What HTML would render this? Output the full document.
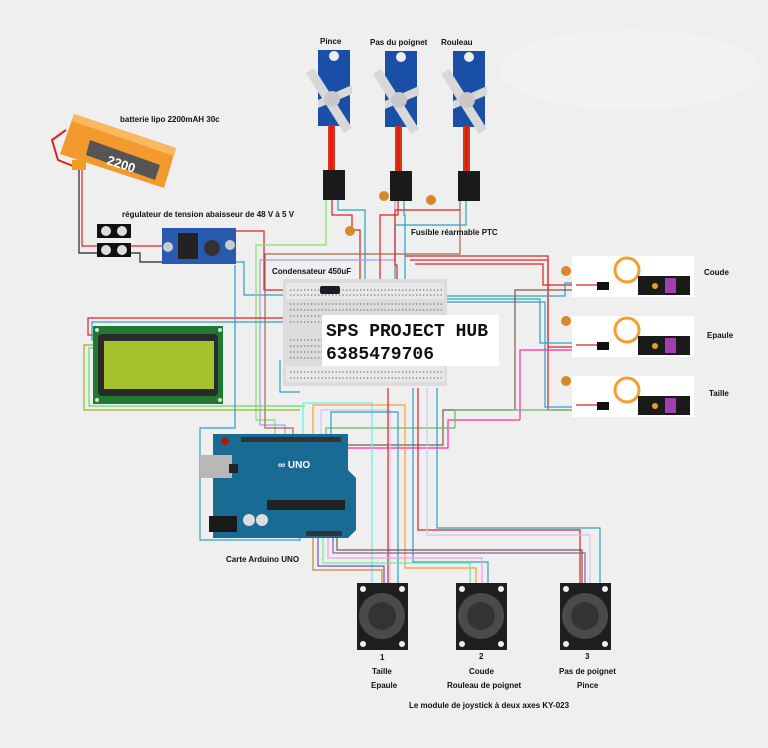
<!DOCTYPE html>
<html><head><meta charset="utf-8"><style>
html,body{margin:0;padding:0;background:#efefef;}
svg{display:block}
text{font-family:"Liberation Sans",sans-serif;font-weight:bold;font-size:8px;fill:#111}
</style></head><body>
<svg width="768" height="748" viewBox="0 0 768 748" xmlns="http://www.w3.org/2000/svg">
<rect width="768" height="748" fill="#efefef"/>
<ellipse cx="630" cy="70" rx="130" ry="40" fill="#f2f2f2"/>

<!-- wires -->
<g fill="none" stroke-width="1.2">
<polyline points="82,163 82,246 97,246" stroke="#e02020"/>
<polyline points="79,168 79,253 97,253" stroke="#222"/>
<polyline points="130,246 162,246" stroke="#e02020"/>
<polyline points="130,253 140,253 140,262 162,262" stroke="#222"/>
<polyline points="236,231 264,231 264,290 288,290" stroke="#e02020"/>
<polyline points="236,262 244,262 244,295 288,295" stroke="#2aa0c8"/>
<polyline points="326,200 326,245 256,245 256,420 275,420 275,437" stroke="#7de85a"/>
<polyline points="332,200 332,215 352,215 352,230 360,230 360,290" stroke="#e02020"/>
<polyline points="338,200 338,210 365,210 365,292" stroke="#2aa0c8"/>
<polyline points="395,200 395,260 260,260 260,425 285,425 285,437" stroke="#a99af0"/>
<polyline points="398,200 398,215 380,215 380,292" stroke="#e02020"/>
<polyline points="404,200 404,215 405,215 405,292" stroke="#2aa0c8"/>
<polyline points="460,200 460,254 265,254 265,428 293,428 293,437" stroke="#a0684a"/>
<polyline points="466,200 466,225 395,225 395,292" stroke="#2aa0c8"/>
<polyline points="460,210 395,210 395,265 397,265 397,292" stroke="#e02020"/>
<polyline points="405,256 548,256 548,347 572,347" stroke="#e02020"/>
<polyline points="410,260 548,260 548,410 572,410" stroke="#e02020"/>
<polyline points="415,264 543,264 543,285 572,285" stroke="#e02020"/>
<polyline points="400,292 400,302 545,302 545,407 572,407" stroke="#2aa0c8"/>
<polyline points="410,292 410,296 565,296 565,283 572,283" stroke="#2aa0c8"/>
<polyline points="420,292 420,299 540,299 540,343 572,343" stroke="#2aa0c8"/>
<polyline points="515,410 515,290 572,290" stroke="#7a5a4a"/>
<polyline points="515,410 443,410 443,445 310,445 310,437" stroke="#7a5a4a"/>
<polyline points="520,420 520,350 572,350" stroke="#ff2a9a"/>
<polyline points="520,420 448,420 448,448 316,448 316,437" stroke="#ff2a9a"/>
<polyline points="455,428 455,410 572,410" stroke="#6ab86a"/>
<polyline points="455,428 326,428 326,437" stroke="#6ab86a"/>
<polyline points="286,365 286,382 300,382" stroke="#e02020"/>
<polyline points="280,360 280,392 300,392" stroke="#2aa0c8"/>
<polyline points="300,300 300,318 88,318 88,335 94,335" stroke="#e02020"/>
<polyline points="305,300 305,322 92,322 92,340 94,340" stroke="#2aa0c8"/>
<polyline points="94,345 84,345 84,410 300,410" stroke="#9ab02a"/>
<polyline points="94,348 89,348 89,406 305,406" stroke="#5ae05a"/>
<polyline points="235,265 235,428 200,428 200,540 300,540 300,537" stroke="#2aa0c8"/>
<polyline points="303,437 303,403 372,403 372,588" stroke="#60f0f0"/>
<polyline points="313,437 313,405 405,405 405,568 476,568 476,588" stroke="#ff9a30"/>
<polyline points="321,437 321,410 390,410 390,588" stroke="#c8c8f8"/>
<polyline points="331,437 331,412 398,412 398,588" stroke="#2aa0c8"/>
<polyline points="388,388 388,588" stroke="#e02020"/>
<polyline points="418,388 418,530 580,530 580,588" stroke="#e02020"/>
<polyline points="427,388 427,535 590,535 590,588" stroke="#c8c8f8"/>
<polyline points="437,388 437,528 600,528 600,588" stroke="#2aa0c8"/>
<polyline points="413,388 413,562 488,562 488,588" stroke="#2aa0c8"/>
<polyline points="313,537 313,570 382,570 382,588" stroke="#c08a30"/>
<polyline points="318,537 318,566 384,566 384,588" stroke="#7a4ac8"/>
<polyline points="323,537 323,563 470,563 470,588" stroke="#60f0a0"/>
<polyline points="328,537 328,558 482,558 482,588" stroke="#ff9ad8"/>
<polyline points="333,537 333,553 585,553 585,588" stroke="#8a5ab8"/>
<polyline points="337,537 337,550 582,550 582,588" stroke="#7a5a3a"/>
</g>

<!-- servos top -->
<g>
<text x="320" y="44">Pince</text>
<text x="370" y="45">Pas du poignet</text>
<text x="441" y="45">Rouleau</text>
<g id="sv">
<rect x="318" y="50" width="32" height="76" fill="#1a4fa8"/>
<circle cx="334" cy="56" r="5" fill="#efefef"/>
<path d="M314 68 L352 128 L344 133 L306 73 Z" fill="#d8d8d8"/>
<path d="M318 100 L352 85 L352 94 L318 108 Z" fill="#d8d8d8"/>
<circle cx="332" cy="99" r="8" fill="#c8c8c8"/>
<rect x="328" y="125" width="7" height="45" fill="#d23a10"/>
<rect x="330" y="125" width="3" height="45" fill="#e81818"/>
<rect x="323" y="170" width="22" height="30" fill="#1a1a1a"/>
</g>
<use href="#sv" x="67" y="1"/>
<use href="#sv" x="135" y="1"/>
</g>

<!-- fuse/caps -->
<g fill="#d8882a">
<circle cx="350" cy="231" r="5"/><circle cx="384" cy="196" r="5"/><circle cx="431" cy="200" r="5"/>
<circle cx="566" cy="271" r="5"/><circle cx="566" cy="321" r="5"/><circle cx="566" cy="381" r="5"/>
</g>
<text x="411" y="235">Fusible réarmable PTC</text>

<!-- battery -->
<polygon points="74,114 176,148 164,188 60,154" fill="#f39a2e"/>
<polygon points="74,114 176,148 174,156 72,121" fill="#f8b860"/>
<polygon points="90,140 160,165 155,180 86,155" fill="#555"/>
<text x="108" y="168" transform="rotate(18 120 160)" style="font-size:13px;fill:#fff">2200</text>
<polyline points="66,130 52,140 58,160 78,168" fill="none" stroke="#e02020" stroke-width="2"/>
<rect x="72" y="160" width="14" height="10" fill="#f0a020"/>
<text x="120" y="122">batterie lipo 2200mAH 30c</text>

<!-- terminal blocks & regulator -->
<rect x="97" y="224" width="34" height="14" fill="#111"/>
<rect x="97" y="243" width="34" height="14" fill="#111"/>
<g fill="#ddd"><circle cx="106" cy="231" r="5"/><circle cx="122" cy="231" r="5"/><circle cx="106" cy="250" r="5"/><circle cx="122" cy="250" r="5"/></g>
<text x="122" y="217">régulateur de tension abaisseur de 48 V à 5 V</text>
<rect x="162" y="228" width="74" height="36" fill="#2a5ab0"/>
<rect x="178" y="233" width="20" height="26" fill="#222"/>
<circle cx="212" cy="248" r="8" fill="#333"/>
<circle cx="168" cy="247" r="5" fill="#ccc"/><circle cx="230" cy="245" r="5" fill="#ccc"/>

<!-- breadboard -->
<text x="272" y="274">Condensateur 450uF</text>
<rect x="283" y="279" width="164" height="107" fill="#dcdcdc"/>
<rect x="286" y="283" width="158" height="16" fill="#e8e8e8"/>
<rect x="286" y="366" width="158" height="16" fill="#e8e8e8"/>
<g stroke="#777" stroke-width="1.3" stroke-dasharray="1.3 2.2">
<line x1="290" y1="290" x2="442" y2="290"/><line x1="290" y1="295" x2="442" y2="295"/>
<line x1="290" y1="304" x2="442" y2="304"/><line x1="290" y1="310" x2="442" y2="310"/>
<line x1="290" y1="316" x2="322" y2="316"/><line x1="290" y1="322" x2="322" y2="322"/>
<line x1="290" y1="340" x2="322" y2="340"/><line x1="290" y1="346" x2="322" y2="346"/>
<line x1="290" y1="352" x2="322" y2="352"/><line x1="290" y1="358" x2="322" y2="358"/>
<line x1="290" y1="372" x2="442" y2="372"/><line x1="290" y1="378" x2="442" y2="378"/>
</g>
<rect x="320" y="286" width="20" height="8" rx="2" fill="#1a1a2a"/>
<rect x="322" y="315" width="177" height="51" fill="#fff"/>
<text x="326" y="336" style="font-family:'Liberation Mono',monospace;font-size:18px;font-weight:bold">SPS PROJECT HUB</text>
<text x="326" y="359" style="font-family:'Liberation Mono',monospace;font-size:18px;font-weight:bold">6385479706</text>

<!-- LCD -->
<rect x="93" y="326" width="130" height="78" fill="#1f7a30"/>
<rect x="98" y="334" width="120" height="62" rx="4" fill="#2a2a2a"/>
<rect x="104" y="341" width="110" height="48" fill="#a3c22c"/>
<g fill="#ddd"><circle cx="97" cy="330" r="2"/><circle cx="220" cy="330" r="2"/><circle cx="97" cy="400" r="2"/><circle cx="220" cy="400" r="2"/></g>

<!-- right servos -->
<g id="rs">
<rect x="572" y="256" width="122" height="41" fill="#fff"/>
<circle cx="627" cy="270" r="12" fill="none" stroke="#f0a030" stroke-width="3"/>
<rect x="638" y="276" width="52" height="19" fill="#1a1a1a"/>
<rect x="665" y="278" width="11" height="15" fill="#a040b0"/>
<circle cx="655" cy="286" r="3" fill="#e0a020"/>
<rect x="597" y="282" width="12" height="8" fill="#111"/>
<polyline points="576,285 597,285" stroke="#e02020" stroke-width="1.3"/>
</g>
<use href="#rs" y="60"/><use href="#rs" y="120"/>
<text x="704" y="275">Coude</text>
<text x="707" y="338">Epaule</text>
<text x="709" y="396">Taille</text>

<!-- Arduino -->
<path d="M213 434 H348 V470 L356 478 V530 L348 538 H213 Z" fill="#1a6b94"/>
<rect x="200" y="455" width="32" height="23" fill="#b8b8b8"/>
<rect x="209" y="516" width="28" height="16" fill="#1a1a1a"/>
<circle cx="249" cy="520" r="6" fill="#ddd"/><circle cx="262" cy="520" r="6" fill="#ddd"/>
<rect x="267" y="500" width="78" height="10" fill="#222"/>
<rect x="241" y="437" width="100" height="5" fill="#333"/>
<rect x="306" y="531" width="36" height="5" fill="#333"/>
<circle cx="225" cy="441" r="4" fill="#a02010"/>
<rect x="229" y="464" width="9" height="9" fill="#222"/>
<text x="278" y="468" style="font-size:10px;fill:#fff">∞ UNO</text>
<text x="226" y="562">Carte Arduino UNO</text>

<!-- joysticks -->
<g id="js">
<rect x="357" y="583" width="51" height="67" fill="#1e1e1e"/>
<circle cx="382" cy="616" r="23" fill="#4a4a4a"/>
<circle cx="382" cy="616" r="14" fill="#333"/>
<g fill="#eee"><circle cx="363" cy="589" r="3"/><circle cx="402" cy="589" r="3"/><circle cx="363" cy="644" r="3"/><circle cx="402" cy="644" r="3"/></g>
</g>
<use href="#js" x="99"/><use href="#js" x="203"/>
<text x="380" y="660">1</text><text x="479" y="659">2</text><text x="585" y="659">3</text>
<text x="372" y="674">Taille</text><text x="371" y="688">Epaule</text>
<text x="469" y="674">Coude</text><text x="447" y="688">Rouleau de poignet</text>
<text x="559" y="674">Pas de poignet</text><text x="577" y="688">Pince</text>
<text x="409" y="708">Le module de joystick à deux axes KY-023</text>
</svg>
</body></html>
